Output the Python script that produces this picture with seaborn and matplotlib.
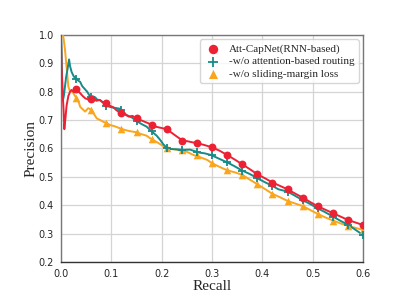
import numpy as np
import pandas as pd
import seaborn as sns
import matplotlib.pyplot as plt

# PR curves
red_r = [0, 0.001, 0.003, 0.005, 0.0066, 0.009, 0.011, 0.0146, 0.018, 0.021, 0.026, 0.031, 0.035,
         0.038, 0.043, 0.048, 0.055, 0.064, 0.07, 0.077, 0.083, 0.089, 0.095, 0.104, 0.11, 0.119,
         0.127, 0.135, 0.142, 0.149, 0.158, 0.165, 0.172, 0.18, 0.19, 0.2, 0.21, 0.22, 0.23, 0.242,
         0.25, 0.26, 0.272, 0.285, 0.30, 0.315, 0.33, 0.345, 0.36, 0.375, 0.39, 0.405, 0.42, 0.435,
         0.45, 0.465, 0.48, 0.495, 0.51, 0.525, 0.54, 0.555, 0.57, 0.585, 0.60]
red_p = [1.0, 0.89, 0.80, 0.74, 0.668, 0.71, 0.75, 0.785, 0.80, 0.806, 0.798, 0.812, 0.80,
         0.795, 0.785, 0.777, 0.772, 0.779, 0.768, 0.771, 0.762, 0.761, 0.752, 0.745, 0.735, 0.724,
         0.72, 0.712, 0.715, 0.706, 0.70, 0.695, 0.69, 0.683, 0.676, 0.672, 0.668, 0.655, 0.642, 0.627,
         0.626, 0.622, 0.618, 0.612, 0.604, 0.592, 0.577, 0.561, 0.544, 0.527, 0.509, 0.495, 0.48, 0.468,
         0.456, 0.441, 0.427, 0.411, 0.396, 0.384, 0.372, 0.360, 0.348, 0.339, 0.33]

teal_r = [0, 0.001, 0.002, 0.003, 0.004, 0.006, 0.008, 0.01, 0.013, 0.016, 0.018, 0.021, 0.025,
          0.028, 0.031, 0.035, 0.038, 0.042, 0.048, 0.052, 0.058, 0.063, 0.068, 0.072, 0.077, 0.084,
          0.091, 0.1, 0.111, 0.117, 0.124, 0.13, 0.14, 0.15, 0.16, 0.17, 0.177, 0.19, 0.197, 0.203,
          0.21, 0.217, 0.23, 0.243, 0.256, 0.27, 0.276, 0.285, 0.298, 0.315, 0.33, 0.345, 0.36, 0.375,
          0.39, 0.405, 0.42, 0.432, 0.45, 0.465, 0.48, 0.495, 0.51, 0.525, 0.54, 0.555, 0.571, 0.585, 0.60]
teal_p = [1.0, 0.95, 0.86, 0.79, 0.77, 0.79, 0.82, 0.85, 0.88, 0.914, 0.89, 0.87, 0.855,
          0.848, 0.845, 0.838, 0.835, 0.82, 0.808, 0.80, 0.782, 0.784, 0.78, 0.772, 0.771, 0.762,
          0.75, 0.745, 0.742, 0.74, 0.728, 0.718, 0.71, 0.697, 0.686, 0.677, 0.665, 0.645, 0.63, 0.615,
          0.603, 0.598, 0.597, 0.595, 0.596, 0.588, 0.585, 0.583, 0.577, 0.563, 0.551, 0.537, 0.522, 0.51,
          0.495, 0.481, 0.468, 0.456, 0.448, 0.433, 0.418, 0.404, 0.389, 0.375, 0.36, 0.345, 0.33, 0.313, 0.295]

orange_r = [0.003, 0.005, 0.008, 0.011, 0.0146, 0.018, 0.021, 0.026, 0.031, 0.035, 0.038, 0.043,
            0.048, 0.054, 0.061, 0.066, 0.071, 0.078, 0.084, 0.09, 0.097, 0.107, 0.117, 0.127, 0.137,
            0.15, 0.157, 0.17, 0.177, 0.183, 0.197, 0.21, 0.223, 0.236, 0.25, 0.263, 0.275, 0.29, 0.30,
            0.315, 0.33, 0.345, 0.36, 0.375, 0.39, 0.405, 0.42, 0.435, 0.45, 0.465, 0.48, 0.495, 0.51,
            0.525, 0.54, 0.555, 0.57, 0.585, 0.60]
orange_p = [1.0, 0.99, 0.947, 0.888, 0.818, 0.80, 0.806, 0.79, 0.777, 0.765, 0.747, 0.738,
            0.73, 0.742, 0.736, 0.72, 0.706, 0.70, 0.694, 0.69, 0.683, 0.678, 0.671, 0.665, 0.661,
            0.657, 0.652, 0.645, 0.636, 0.63, 0.615, 0.60, 0.598, 0.593, 0.588, 0.577, 0.57, 0.56, 0.548,
            0.535, 0.523, 0.516, 0.507, 0.49, 0.474, 0.457, 0.44, 0.428, 0.415, 0.406, 0.397, 0.383, 0.369,
            0.357, 0.346, 0.336, 0.327, 0.32, 0.313]

# marker positions (every 0.03 recall)
mk_r = [0.03, 0.06, 0.09, 0.12, 0.15, 0.18, 0.21, 0.24, 0.27, 0.30,
        0.33, 0.36, 0.39, 0.42, 0.45, 0.48, 0.51, 0.54, 0.57, 0.60]
red_mk = [0.81, 0.775, 0.761, 0.724, 0.706, 0.683, 0.668, 0.627, 0.618, 0.604,
          0.577, 0.544, 0.509, 0.48, 0.456, 0.427, 0.396, 0.372, 0.348, 0.33]
teal_mk = [0.845, 0.78, 0.75, 0.735, 0.697, 0.662, 0.603, 0.596, 0.588, 0.577,
           0.551, 0.522, 0.495, 0.468, 0.448, 0.418, 0.389, 0.36, 0.33, 0.295]
orange_mk = [0.777, 0.736, 0.69, 0.668, 0.657, 0.634, 0.60, 0.594, 0.578, 0.548,
             0.523, 0.507, 0.474, 0.44, 0.415, 0.397, 0.369, 0.346, 0.327, 0.313]

labels = ['Att-CapNet(RNN-based)', '-w/o attention-based routing', '-w/o sliding-margin loss']
red, teal, orange = '#ec2234', '#178b88', '#f9a61e'

sns.set_style('whitegrid')

fig = plt.figure(figsize=(4.15, 2.94), dpi=100)
ax = fig.add_axes([0.147, 0.109, 0.728, 0.772])

sns.lineplot(x=orange_r, y=orange_p, sort=False, estimator=None, color=orange, lw=1.4, ax=ax, zorder=3)
sns.lineplot(x=teal_r, y=teal_p, sort=False, estimator=None, color=teal, lw=1.4, ax=ax, zorder=4)
sns.lineplot(x=red_r, y=red_p, sort=False, estimator=None, color=red, lw=1.4, ax=ax, zorder=5)

sns.scatterplot(x=mk_r, y=red_mk, marker='o', s=32, color=red, linewidth=0, label=labels[0], ax=ax, zorder=7)
sns.scatterplot(x=mk_r, y=teal_mk, marker='+', s=30, color=teal, linewidth=1.3, label=labels[1], ax=ax, zorder=6)
sns.scatterplot(x=mk_r, y=orange_mk, marker='^', s=30, color=orange, linewidth=0, label=labels[2], ax=ax, zorder=5)

ax.set_xlim(0, 0.6)
ax.set_ylim(0.2, 1.0)
ax.set_xticks(np.arange(0, 0.61, 0.1))
ax.set_yticks(np.arange(0.2, 1.01, 0.1))
ax.xaxis.set_major_formatter(plt.FormatStrFormatter('%.1f'))
ax.yaxis.set_major_formatter(plt.FormatStrFormatter('%.1f'))
ax.tick_params(labelsize=7, length=3, width=0.8, color='#333333', pad=2)
ax.grid(color='#d4d4d4', lw=0.9)
for side, s in ax.spines.items():
    s.set_color('#777777')
    s.set_linewidth(1.0)
ax.spines['bottom'].set_color('#333333')

ax.set_xlabel('Recall', family='Liberation Serif', fontsize=11, labelpad=1)
ax.set_ylabel('Precision', family='Liberation Serif', fontsize=11, labelpad=1)

leg = ax.legend(loc='upper right', prop={'family': 'Liberation Serif', 'size': 8},
                handletextpad=0.6, borderpad=0.4, labelspacing=0.25, handlelength=1.6,
                markerscale=1.2, frameon=True, borderaxespad=0.4)
leg.get_frame().set_edgecolor('#cccccc')

fig.savefig('out.png', dpi=100)
